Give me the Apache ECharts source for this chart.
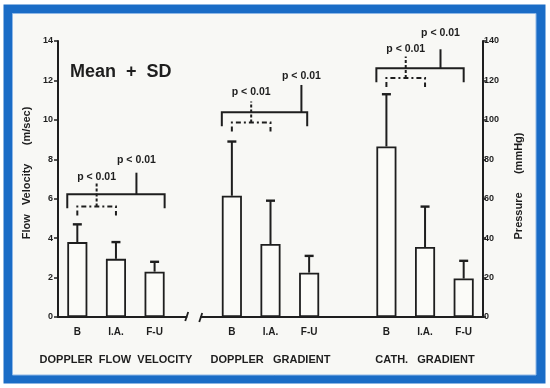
<!DOCTYPE html>
<html><head><meta charset="utf-8">
<script src="https://cdn.jsdelivr.net/npm/echarts@6/dist/echarts.min.js"></script>
<style>html,body{margin:0;padding:0;background:#fff}#c{width:550px;height:388px}</style>
</head><body><div id="c"></div>
<script>
// categories (blank = gap slots between groups)
const categories = ['B','I.A.','F-U','','B','I.A.','F-U','','B','I.A.','F-U'];
const groupNames = ['','DOPPLER  FLOW  VELOCITY','','','','DOPPLER   GRADIENT','','','','CATH.   GRADIENT',''];
const leftTicks = [0,2,4,6,8,10,12,14];
const rightTicks = [0,20,40,60,80,100,120,140];
// Doppler flow velocity (m/sec) — left axis
const velMean = [3.8, 2.95, 2.3];
const velSD   = [0.9, 0.85, 0.5];
// Doppler gradient (mmHg) — right axis
const dopMean = [61.5, 37, 22.5];
const dopSD   = [27.5, 22, 8.5];
// Catheter gradient (mmHg) — right axis
const cathMean = [86.5, 35.5, 19.5];
const cathSD   = [26.5, 20.5, 9];
// significance brackets (levels in mmHg units), one per group
const brFirstIdx  = [0, 4, 8];
const brOuter     = [62.3, 103.9, 126.2];
const brInner     = [56.0, 98.6, 121.2];
const brStemTop   = [73.2, 117.7, 135.8];
const brDotTop    = [68.6, 109.3, 132.1];
const brLabOuter  = [79.7, 122.4, 143.9];
const brLabInner  = [71.2, 114.0, 135.8];
const brLabel = 'p < 0.01';

// layout helpers (not data)
const stemOff = [-0.47, -0.2, -0.6];
const outerEndOff = [0.26, -0.05, 0];

const velBars = categories.map((c,i)=> i<3 ? velMean[i] : null);
const prBars = categories.map((c,i)=> i>=4&&i<=6 ? dopMean[i-4] : (i>=8 ? cathMean[i-8] : null));
const velErr = velMean.map((m,i)=>[i, m, m+velSD[i]]);
const prErr = dopMean.map((m,i)=>[i+4, m, m+dopSD[i]]).concat(cathMean.map((m,i)=>[i+8, m, m+cathSD[i]]));
const brData = brFirstIdx.map((b,i)=>[b, brOuter[i], brInner[i], brStemTop[i], brDotTop[i], brLabOuter[i], brLabInner[i], i]);

const INK = '#1e1e1e';
const FONT = '"Liberation Sans", Arial, sans-serif';

function errRender(params, api){
  const p0 = api.coord([api.value(0), api.value(1)]);
  const p1 = api.coord([api.value(0), api.value(2)]);
  const st = {stroke: INK, lineWidth: 2};
  return {type:'group', children:[
    {type:'line', shape:{x1:p0[0], y1:p0[1], x2:p1[0], y2:p1[1]}, style:st},
    {type:'line', shape:{x1:p1[0]-4.5, y1:p1[1], x2:p1[0]+4.5, y2:p1[1]}, style:{stroke:INK, lineWidth:2.4}}
  ]};
}

function brRender(params, api){
  const b = api.value(0), g = api.value(7);
  const band = api.size([1,0])[0];
  const half = band*0.26;
  const xB = api.coord([b, 0])[0], xI = api.coord([b+1,0])[0], xF = api.coord([b+2,0])[0];
  const yO = api.coord([b, api.value(1)])[1];
  const yI = api.coord([b, api.value(2)])[1];
  const yS = api.coord([b, api.value(3)])[1];
  const yD = api.coord([b, api.value(4)])[1];
  const yLO = api.coord([b, api.value(5)])[1];
  const yLI = api.coord([b, api.value(6)])[1];
  const xO1 = xB - half, xO2 = xF + outerEndOff[g]*band;
  const xS = xF + stemOff[g]*band;
  const xM = (xB + xI)/2;
  const solid = {stroke: INK, lineWidth: 2, fill: null};
  const dash = {stroke: INK, lineWidth: 2, fill: null, lineDash:[5,3,2,3]};
  const txt = (x,y)=>({type:'text', x:x, y:y, style:{text:brLabel, fill:INK, font:'bold 10.5px '+FONT, textAlign:'center', textVerticalAlign:'middle'}});
  return {type:'group', children:[
    {type:'polyline', shape:{points:[[xO1,yO+14],[xO1,yO],[xO2,yO],[xO2,yO+14]]}, style:solid},
    {type:'line', shape:{x1:xS, y1:yO, x2:xS, y2:yS}, style:solid},
    {type:'polyline', shape:{points:[[xB,yI+9],[xB,yI],[xI,yI],[xI,yI+9]]}, style:dash},
    {type:'line', shape:{x1:xM, y1:yI, x2:xM, y2:yD}, style:{stroke:INK, lineWidth:2, lineDash:[3,2]}},
    txt(xS, yLO), txt(xM, yLI)
  ]};
}

const chart = echarts.init(document.getElementById('c'), null, {renderer:'canvas'});
const axisLbl = {color: INK, fontSize: 9, fontWeight: 'bold', fontFamily: FONT};
chart.setOption({
  backgroundColor: '#ffffff',
  animation: false,
  graphic: {elements: [
    {type:'rect', z:-20, shape:{x:3.5, y:4.5, width:542, height:379}, style:{fill:'#1a6cc6'}},
    {type:'rect', z:-19, shape:{x:12.5, y:13.5, width:523.5, height:361.5}, style:{fill:'#f8f8f5', stroke:'#8fb8e6', lineWidth:1}},
    {type:'text', z:5, left:70, top:63, style:{text:'Mean  +  SD', fill:INK, font:'bold 18px '+FONT}}
  ]},
  grid: {left: 58, right: 67, top: 41, bottom: 71, containLabel: false},
  xAxis: [
    {type:'category', data: categories, boundaryGap: true,
     axisLine:{show:true, lineStyle:{color:INK, width:2}}, axisTick:{show:false},
     axisLabel:{...axisLbl, fontSize:10, interval:0, margin:10}},
    {type:'category', data: groupNames, position:'bottom', boundaryGap:true,
     axisLine:{show:false}, axisTick:{show:false},
     axisLabel:{...axisLbl, fontSize:11, interval:0, margin:37}}
  ],
  yAxis: [
    {type:'value', min:0, max:14, interval:2, position:'left',
     name:'Flow   Velocity      (m/sec)', nameLocation:'middle', nameRotate:90, nameGap:24,
     nameTextStyle:{color:INK, fontSize:11, fontWeight:'bold', fontFamily:FONT, padding:[0,0,0,12]},
     axisLine:{show:true, lineStyle:{color:INK, width:2}},
     axisTick:{show:true, length:4, lineStyle:{color:INK, width:1.5}},
     axisLabel:{...axisLbl, margin:5}, splitLine:{show:false}},
    {type:'value', min:0, max:140, interval:20, position:'right',
     name:'Pressure      (mmHg)', nameLocation:'middle', nameRotate:90, nameGap:30,
     nameTextStyle:{color:INK, fontSize:11, fontWeight:'bold', fontFamily:FONT, padding:[0,0,0,-14]},
     axisLine:{show:true, lineStyle:{color:INK, width:2}},
     axisTick:{show:true, length:3, lineStyle:{color:INK, width:1.5}},
     axisLabel:{...axisLbl, margin:1}, splitLine:{show:false}}
  ],
  series: [
    {type:'bar', yAxisIndex:0, data: velBars, barWidth:'52%', barGap:'-100%',
     itemStyle:{color:'#fbfbf8', borderColor:INK, borderWidth:1.8}},
    {type:'bar', yAxisIndex:1, data: prBars, barWidth:'52%', barGap:'-100%',
     itemStyle:{color:'#fbfbf8', borderColor:INK, borderWidth:1.8}},
    {type:'custom', yAxisIndex:0, data: velErr, renderItem: errRender, z:3},
    {type:'custom', yAxisIndex:1, data: prErr, renderItem: errRender, z:3},
    {type:'custom', yAxisIndex:1, data: brData, renderItem: brRender, z:4}
  ]
});
// axis break marks on the baseline in the gap slot
const gp = chart.convertToPixel({xAxisIndex:0}, 3);
const gy = chart.convertToPixel({yAxisIndex:0}, 0);
chart.setOption({graphic: {elements: [
  {type:'rect', id:'gapcover', z:10, shape:{x:gp-6, y:gy-3, width:13, height:6}, style:{fill:'#f8f8f5'}},
  {type:'line', id:'brk1', z:11, shape:{x1:gp-8, y1:gy+4, x2:gp-5, y2:gy-5}, style:{stroke:INK, lineWidth:1.8}},
  {type:'line', id:'brk2', z:11, shape:{x1:gp+6, y1:gy+5, x2:gp+9, y2:gy-4}, style:{stroke:INK, lineWidth:1.8}}
]}});
</script></body></html>
